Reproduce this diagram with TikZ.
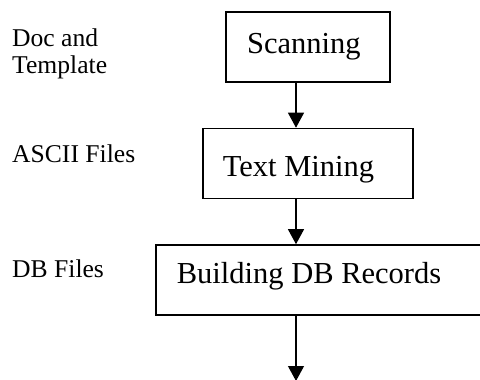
\documentclass[tikz,border=0pt]{standalone}
\usepackage{fontspec}
\setmainfont{Liberation Serif}
\usetikzlibrary{arrows.meta}
\tikzset{
  stagebox/.style={draw=black, line width=1.6pt, fill=white, inner sep=0pt},
  stagetext/.style={anchor=base west, inner sep=0pt, font=\fontsize{30.5}{36}\selectfont},
  sidelabel/.style={anchor=base west, inner sep=0pt, align=left, font=\fontsize{25.6}{27.3}\selectfont},
  flow/.style={draw=black, line width=1.1pt, -{Triangle[width=16pt,length=15pt]}}
}
\begin{document}
\begin{tikzpicture}[x=1pt, y=-1pt]
  \useasboundingbox (0,0) rectangle (480,380);
  \clip (0,0) rectangle (480,380);

  % process stages
  \node[stagebox, minimum width=164pt, minimum height=70pt] (scan) at (308,47) {};
  \node[stagetext] (scantxt) at (247,53.3) {Scanning};

  \node[stagebox, minimum width=210pt, minimum height=70pt] (mine) at (308,163.5) {};
  \node[stagetext] (minetxt) at (222.7,176.7) {Text Mining};

  \node[stagebox, minimum width=340pt, minimum height=70pt] (build) at (326,280) {};
  \node[stagetext] (buildtxt) at (176.7,283.3) {Building DB Records};

  % data produced at each stage (base anchor sits on the last line)
  \node[sidelabel] (doc) at (12,73.3) {Doc and\\Template};
  \node[sidelabel] (ascii) at (12,162.7) {ASCII Files};
  \node[sidelabel] (dbf) at (12,277.7) {DB Files};

  % flow line
  \coordinate (axis) at (296,0);
  \coordinate (out) at (296,381);
  \draw[flow] (scan.south -| axis) -- (mine.north -| axis);
  \draw[flow] (mine.south -| axis) -- (build.north -| axis);
  \draw[flow] (build.south -| axis) -- (out);
\end{tikzpicture}
\end{document}
